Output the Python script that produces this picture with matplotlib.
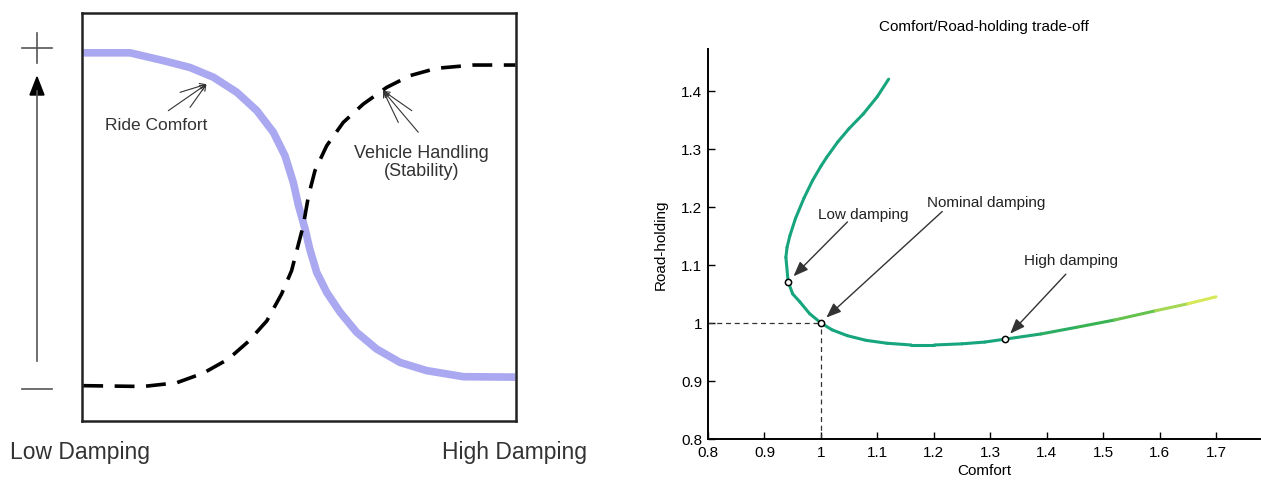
import matplotlib.pyplot as plt
import numpy as np
from matplotlib.collections import LineCollection
from matplotlib.colors import LinearSegmentedColormap
from matplotlib.lines import Line2D

plt.rcParams['font.family'] = ['Liberation Sans', 'DejaVu Sans']

# Left sketch: damping vs. performance (box coordinates 0..1)
ride_x = [0.004, 0.112, 0.188, 0.250, 0.304, 0.358, 0.404, 0.442, 0.469, 0.488, 0.500,
          0.515, 0.526, 0.542, 0.565, 0.596, 0.634, 0.680, 0.734, 0.795, 0.880, 1.0]
ride_y = [0.903, 0.903, 0.884, 0.867, 0.843, 0.806, 0.761, 0.708, 0.650, 0.585, 0.528,
          0.471, 0.421, 0.364, 0.315, 0.266, 0.217, 0.176, 0.143, 0.123, 0.108, 0.107]
handling_x = [0.004, 0.142, 0.219, 0.281, 0.338, 0.384, 0.427, 0.461, 0.484, 0.500, 0.511,
              0.523, 0.538, 0.565, 0.603, 0.649, 0.703, 0.757, 0.818, 0.903, 1.0]
handling_y = [0.086, 0.084, 0.093, 0.117, 0.151, 0.194, 0.245, 0.311, 0.368, 0.434, 0.479,
              0.552, 0.614, 0.675, 0.732, 0.777, 0.818, 0.847, 0.865, 0.873, 0.873]

# Right chart: comfort / road-holding trade-off
comfort = [1.12, 1.10, 1.075, 1.05, 1.03, 1.01, 1.0, 0.985, 0.97, 0.955, 0.945, 0.94,
           0.938, 0.942, 0.95, 0.963, 0.98, 1.0, 1.02, 1.047, 1.08, 1.117, 1.16, 1.201,
           1.25, 1.29, 1.326, 1.39, 1.453, 1.52, 1.593, 1.65, 1.7]
road_holding = [1.42, 1.39, 1.36, 1.335, 1.312, 1.285, 1.27, 1.245, 1.215, 1.18, 1.15, 1.13,
                1.113, 1.071, 1.05, 1.036, 1.016, 1.0, 0.988, 0.978, 0.97, 0.965, 0.962, 0.962,
                0.964, 0.967, 0.972, 0.981, 0.9925, 1.005, 1.021, 1.033, 1.045]
marked_labels = ['Low damping', 'Nominal damping', 'High damping']
marked_x = [0.942, 1.0, 1.326]
marked_y = [1.071, 1.0, 0.972]
label_x = [1.075, 1.292, 1.443]
label_y = [1.188, 1.209, 1.109]
tail_x = [1.047, 1.215, 1.434]
tail_y = [1.174, 1.192, 1.084]

W, H = 1261, 481
fig = plt.figure(figsize=(W / 100, H / 100), dpi=100)

def fx(px):
    return px / W

def fy(py):
    return 1 - py / H

# ---- left panel ----
axl = fig.add_axes([fx(81.5), fy(421.7), fx(434), 407.4 / H])
axl.set_xlim(0, 1)
axl.set_ylim(0, 1)
axl.set_xticks([])
axl.set_yticks([])
for s in axl.spines.values():
    s.set_linewidth(1.8)
    s.set_color('#222222')
axl.plot(ride_x, ride_y, color='#aaa8f0', lw=5.5, solid_capstyle='butt', solid_joinstyle='round')
axl.plot(handling_x, handling_y, color='black', lw=2.6, dashes=(5.5, 3.2))

axl.text(0.173, 0.726, 'Ride Comfort', fontsize=12.5, ha='center', va='center', color='#333333')
for sx, sy in [(0.200, 0.761), (0.250, 0.769), (0.227, 0.806)]:
    axl.annotate('', xy=(0.288, 0.826), xytext=(sx, sy),
                 arrowprops=dict(arrowstyle='->', lw=0.8, color='#333333', shrinkA=0, shrinkB=0))
axl.text(0.784, 0.636, 'Vehicle Handling\n(Stability)', fontsize=13, ha='center',
         va='center', color='#333333', linespacing=1.05)
for sx, sy in [(0.730, 0.732), (0.776, 0.708), (0.761, 0.761)]:
    axl.annotate('', xy=(0.695, 0.810), xytext=(sx, sy),
                 arrowprops=dict(arrowstyle='->', lw=0.8, color='#333333', shrinkA=0, shrinkB=0))

# plus / minus and vertical arrow
fig.add_artist(Line2D([fx(22), fx(52)], [fy(49), fy(49)], color='#555555', lw=1.2))
fig.add_artist(Line2D([fx(37), fx(37)], [fy(34), fy(64)], color='#555555', lw=1.2))
fig.add_artist(Line2D([fx(22), fx(52)], [fy(390), fy(390)], color='#555555', lw=1.2))
fig.add_artist(Line2D([fx(37), fx(37)], [fy(362), fy(92)], color='#555555', lw=1.2))
fig.patches.append(plt.Polygon([[fx(37), fy(78)], [fx(30), fy(96)], [fx(44), fy(96)]],
                               closed=True, color='black', transform=fig.transFigure))

fig.text(fx(80), fy(452), 'Low Damping', fontsize=16.5, ha='center', va='center', color='#333333')
fig.text(fx(514), fy(452), 'High Damping', fontsize=16.5, ha='center', va='center', color='#333333')

# ---- right panel ----
axr = fig.add_axes([fx(708), fy(440), fx(552), 390 / H])
axr.set_xlim(0.8, 1.778)
axr.set_ylim(0.8, 1.472)
axr.spines['top'].set_visible(False)
axr.spines['right'].set_visible(False)
for s in ['left', 'bottom']:
    axr.spines[s].set_linewidth(1.4)
axr.set_xticks([0.8, 0.9, 1.0, 1.1, 1.2, 1.3, 1.4, 1.5, 1.6, 1.7])
axr.set_xticklabels(['0.8', '0.9', '1', '1.1', '1.2', '1.3', '1.4', '1.5', '1.6', '1.7'])
axr.set_yticks([0.8, 0.9, 1.0, 1.1, 1.2, 1.3, 1.4])
axr.set_yticklabels(['0.8', '0.9', '1', '1.1', '1.2', '1.3', '1.4'])
axr.tick_params(direction='in', length=5, width=1, labelsize=11, pad=4)

axr.plot([0.8, 1.0], [1.0, 1.0], color='#333333', lw=0.9, ls=(0, (4, 3)))
axr.plot([1.0, 1.0], [0.8, 1.0], color='#333333', lw=0.9, ls=(0, (4, 3)))

pts = np.column_stack([comfort, road_holding])
segs = np.stack([pts[:-1], pts[1:]], axis=1)
cmap = LinearSegmentedColormap.from_list('trade', ['#17a57e', '#3fb54a', '#eef05a'])
mid = (np.array(comfort[:-1]) + np.array(comfort[1:])) / 2
shade = np.clip((mid - 1.33) / 0.37, 0, 1)
lc = LineCollection(segs, colors=cmap(shade), lw=2.2, capstyle='round', joinstyle='round')
axr.add_collection(lc)

axr.plot(marked_x, marked_y, 'o', ms=4.5, mfc='white', mec='black', mew=1.1, zorder=5)
for lab, mx, my, lx, ly, tx, ty in zip(marked_labels, marked_x, marked_y, label_x, label_y, tail_x, tail_y):
    axr.text(lx, ly, lab, fontsize=11, ha='center', va='center', color='#222222')
    axr.annotate('', xy=(mx + 0.006, my + 0.006), xytext=(tx, ty),
                 arrowprops=dict(arrowstyle='-|>,head_length=0.9,head_width=0.35',
                                 lw=1.0, color='#333333', shrinkA=0, shrinkB=2))

axr.set_title('Comfort/Road-holding trade-off', fontsize=11, pad=14)
axr.set_xlabel('Comfort', fontsize=11, labelpad=3)
axr.set_ylabel('Road-holding', fontsize=11, labelpad=10)

fig.savefig('out.png', dpi=100)
